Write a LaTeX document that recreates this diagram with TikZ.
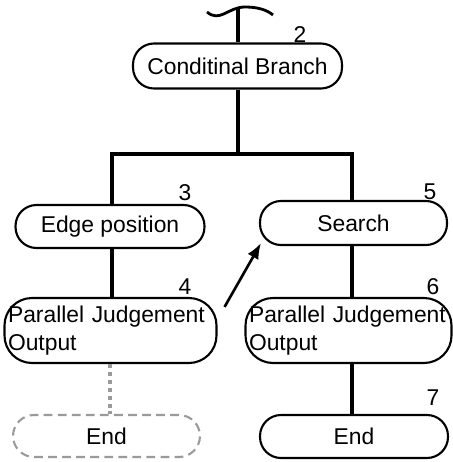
\documentclass[tikz,border=0pt]{standalone}
\usepackage{fontspec}
\setmainfont{Liberation Sans}
\usepackage{xcolor}
\usepackage{tikz}
\usetikzlibrary{positioning, arrows.meta}
\definecolor{linegray}{HTML}{9A9A9A}

\tikzset{
  pill/.style={draw, line width=1.2pt, rounded corners=0.42cm, inner sep=0pt,
    font=\fontsize{13}{15.5}\selectfont},
  tallpill/.style={pill, rounded corners=0.55cm, align=left, inner xsep=2pt},
  ghostpill/.style={pill, draw=linegray, dash pattern=on 5pt off 3pt},
  tree/.style={line width=2.7pt},
  numlabel/.style={font=\fontsize{13}{15}\selectfont, inner sep=0pt}
}

\begin{document}
\begin{tikzpicture}[x=0.02cm, y=-0.02cm]
    \useasboundingbox (0,0) rectangle (452,462);
    % boxes
    \node[pill, minimum width=4.18cm, minimum height=0.9cm] (cond) at (237.5,66) {Conditinal Branch};
    \node[pill, minimum width=3.78cm, minimum height=0.86cm] (edge) at (110,226.5) {Edge position};
    \node[pill, minimum width=3.74cm, minimum height=0.88cm] (search) at (353.5,223) {Search};
    \node[tallpill, minimum width=4.18cm, minimum height=1.3cm, text width=4.1cm] (pjoL) at (110.5,330.5)
      {Parallel Judgement\\Output};
    \node[tallpill, minimum width=4.06cm, minimum height=1.3cm, text width=3.98cm] (pjoR) at (348.5,330.5)
      {Parallel Judgement\\Output};
    \node[ghostpill, minimum width=3.74cm, minimum height=0.84cm] (endL) at (106.5,436) {End};
    \node[pill, minimum width=3.76cm, minimum height=0.86cm] (endR) at (354,436.5) {End};
    % step numbers
    \node[numlabel] (n2) at (300,35) {2};
    \node[numlabel] (n3) at (185,193) {3};
    \node[numlabel] (n5) at (430,192) {5};
    \node[numlabel] (n4) at (185,287) {4};
    \node[numlabel] (n6) at (433,287) {6};
    \node[numlabel] (n7) at (433,398) {7};
    % cut line on top
    \draw[line width=1.6pt] (207,12) .. controls (220,23) and (228,7) .. (245,7)
      .. controls (258,7) and (267,10) .. (273,15);
    \coordinate (cut) at (238,9);
    \coordinate (fork) at (238,154);
    % tree
    \draw[tree] (cut) -- (cut |- cond.north);
    \draw[tree] (cond.south -| cut) -- (fork);
    \draw[tree] (edge.north -| 112,0) |- (fork) -| (search.north -| 352,0);
    \draw[tree] (edge.south -| 112,0) -- (pjoL.north -| 112,0);
    \draw[tree] (search.south -| 352,0) -- (pjoR.north -| 352,0);
    \draw[tree] (pjoR.south -| 352,0) -- (endR.north -| 352,0);
    \draw[linegray, line width=2.4pt, dash pattern=on 2.5pt off 2pt] (pjoL.south -| 110,0) -- (endL.north -| 110,0);
    % jump back
    \draw[line width=1.5pt, -{Latex[length=9pt, width=7pt]}]
      ([shift={(7,10)}]pjoL.north east) -- ([shift={(2,-3)}]search.south west);
\end{tikzpicture}
\end{document}
